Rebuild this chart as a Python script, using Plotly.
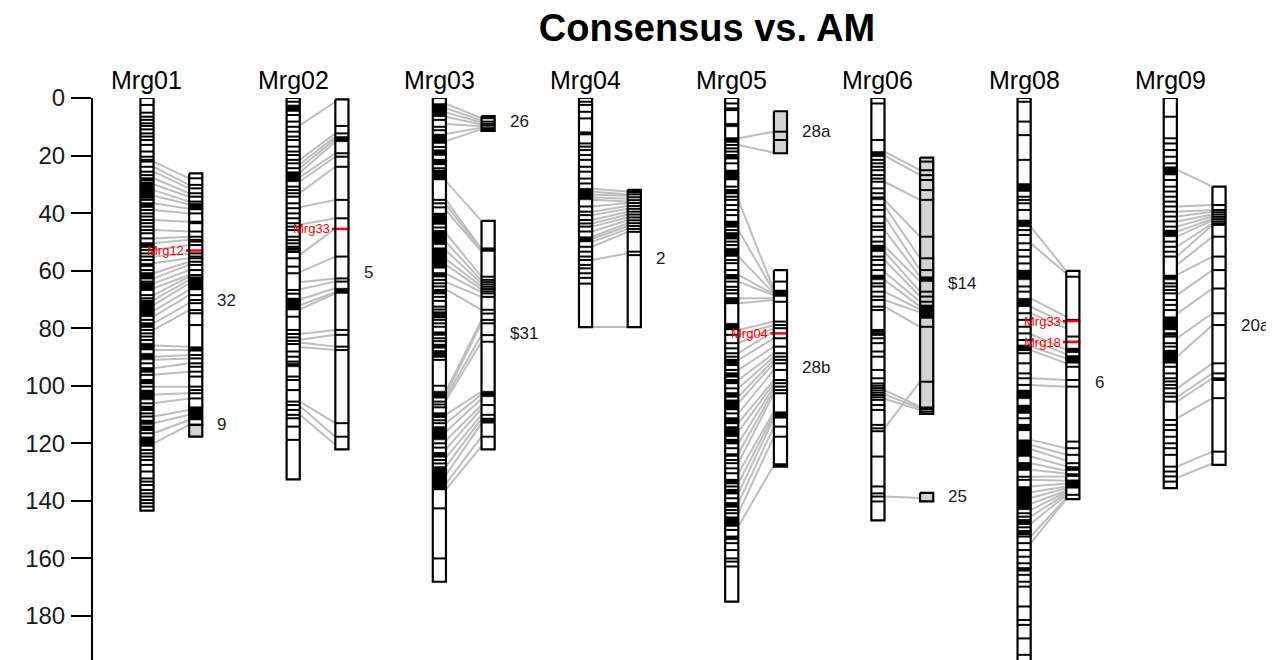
import plotly.graph_objects as go

# ---------------- data (cM) ----------------
GROUP_NAMES = ["Mrg01", "Mrg02", "Mrg03", "Mrg04", "Mrg05", "Mrg06", "Mrg08", "Mrg09"]
TICK_VALUES = [0, 20, 40, 60, 80, 100, 120, 140, 160, 180]

# Mrg01
C01_LEN = 143.4
C01_MARKS = [2.4, 5.1, 6.5, 7.6, 8.8, 9.7, 10.9, 12.3, 13.4, 14.6, 16.3, 18.6, 20.4, 21.5, 22.1, 23.9, 25.6,
             26.8, 27.9, 28.5, 35.4, 36.6, 37.8, 38.9, 40.1, 41.2, 42.4, 43.5, 44.7, 45.9, 47.0, 48.8, 50.5,
             51.7, 52.8, 54.0, 55.1, 56.3, 59.8, 60.9, 61.5, 62.7, 63.8, 64.4, 65.6, 66.1, 66.7, 68.5, 69.6,
             77.1, 78.3, 79.5, 80.6, 81.8, 82.9, 84.1, 92.2, 93.9, 95.1, 96.2, 98.0, 99.1, 100.3, 106.1, 107.3,
             108.4, 109.6, 110.7, 114.2, 115.4, 116.5, 122.3, 123.5, 124.6, 125.8, 127.5, 129.8, 132.2, 133.3,
             134.5, 136.2, 137.4, 138.5, 139.7, 140.8, 142.0]
C01_DENSE = [(29.1, 34.9), (36.6, 37.8), (50.5, 51.7), (57.4, 58.6), (60.9, 62.7), (64.4, 66.1), (70.2, 76.0),
             (78.3, 79.5), (85.2, 87.6), (88.7, 91.0), (93.9, 95.1), (98.0, 99.1), (101.5, 104.9),
             (107.3, 108.4), (111.9, 113.5), (114.2, 115.4), (117.7, 121.1)]
C01_AM_PIECES = [("32", 26.2, 113.6, "white", 70.2), ("9", 113.6, 117.7, "#D3D3D3", 113.3)]
C01_AM_MARKS = [27.9, 30.2, 31.4, 33.1, 34.3, 36.0, 40.1, 43.0, 43.5, 46.4, 48.2, 49.3, 49.9, 51.1, 54.0, 55.1,
                55.7, 56.9, 58.0, 59.8, 61.5, 68.5, 70.2, 71.3, 73.7, 74.8, 78.9, 89.3, 90.5, 92.2, 93.4, 95.1,
                96.8, 100.3, 101.5, 102.6, 104.4]
C01_AM_DENSE = [(36.6, 38.9), (62.1, 66.7), (86.4, 88.0), (107.3, 111.9)]
C01_LINKS = [(22.1, 27.9), (23.9, 30.2), (25.6, 31.4), (27.9, 33.1), (30.0, 34.3), (32.0, 36.0), (34.0, 37.0),
             (36.6, 38.5), (38.9, 40.1), (42.4, 43.0), (45.9, 46.4), (48.8, 48.2), (50.5, 49.3), (52.8, 51.1),
             (55.1, 54.0), (57.4, 55.7), (60.9, 56.9), (62.7, 58.0), (64.4, 59.8), (66.1, 61.5), (68.5, 62.1),
             (70.2, 63.2), (72.0, 64.4), (74.0, 66.7), (76.0, 68.5), (78.3, 71.3), (80.6, 73.7), (86.0, 86.4),
             (87.6, 87.6), (89.9, 89.3), (91.0, 90.5), (93.9, 92.2), (96.2, 95.1), (100.3, 100.3),
             (103.0, 102.6), (106.1, 104.4), (110.7, 108.4), (113.0, 110.1), (116.5, 111.9), (120.0, 113.6)]
C01_RED = [("Mrg12", 53.0)]

# Mrg02
C02_LEN = 132.5
C02_MARKS = [1.3, 5.9, 8.2, 10.0, 11.7, 13.4, 14.6, 16.9, 18.6, 19.8, 21.5, 22.7, 24.4, 30.8, 32.0, 33.1, 34.3,
             36.6, 38.3, 40.1, 41.8, 43.5, 44.7, 45.9, 48.2, 49.4, 50.5, 51.7, 53.5, 55.7, 58.6, 60.9, 66.7,
             68.0, 76.0, 80.6, 82.0, 83.2, 84.4, 85.5, 88.1, 89.9, 91.6, 96.8, 98.0, 101.5, 105.5, 106.7,
             108.4, 110.1, 111.3, 114.2, 118.8]
C02_DENSE = [(2.4, 4.7), (25.6, 29.1), (52.0, 53.0), (69.5, 73.7), (92.2, 93.4)]
C02_AM_PIECES = [("5", 0.5, 122.1, "white", 60.8)]
C02_AM_MARKS = [9.7, 12.3, 19.2, 20.4, 23.9, 35.4, 41.8, 55.1, 62.7, 63.8, 80.6, 82.3, 86.4, 87.6, 113.0, 117.7]
C02_AM_DENSE = [(13.4, 15.2), (66.1, 67.9)]
C02_LINKS = [(9.5, 1.3), (21.5, 12.3), (23.0, 13.4), (24.4, 14.2), (26.0, 15.2), (27.5, 19.2), (29.0, 20.4),
             (33.0, 23.9), (38.0, 35.4), (44.0, 41.8), (54.5, 45.3), (60.5, 55.1), (64.0, 62.7), (66.5, 63.8),
             (70.0, 66.1), (72.0, 67.5), (73.5, 67.9), (82.0, 80.6), (84.0, 82.3), (85.0, 86.4), (86.5, 87.6),
             (105.5, 113.0), (107.0, 117.7), (110.0, 120.5)]
C02_RED = [("Mrg33", 45.5)]

# Mrg03
C03_LEN = 168.1
C03_MARKS = [7.6, 10.0, 11.2, 17.0, 21.5, 23.0, 24.4, 35.4, 36.6, 38.0, 45.0, 60.9, 62.0, 63.2, 64.4, 65.5,
             66.7, 67.9, 69.1, 70.5, 72.5, 73.5, 74.5, 75.3, 76.2, 77.1, 78.3, 79.5, 83.5, 84.5, 88.0, 89.0,
             89.9, 91.0, 100.0, 105.5, 106.5, 107.5, 109.6, 110.8, 112.0, 113.0, 120.0, 121.5, 123.4, 124.6,
             125.8, 127.0, 142.6, 160.0]
C03_DENSE = [(1.9, 6.5), (12.5, 15.8), (18.0, 20.0), (21.5, 23.0), (25.0, 28.5), (40.0, 44.0), (46.0, 51.0),
             (52.0, 59.2), (60.9, 62.0), (66.7, 67.9), (74.5, 76.2), (81.2, 82.5), (85.5, 87.0), (88.0, 89.9),
             (101.9, 104.3), (109.6, 110.8), (114.2, 118.8), (123.4, 124.6), (128.1, 136.2)]
C03_AM_PIECES = [("26", 6.3, 11.4, "white", 8.3), ("$31", 42.7, 122.1, "white", 81.7)]
C03_AM_MARKS = [8.2, 9.0, 9.6, 52.8, 62.1, 63.2, 64.0, 64.8, 65.6, 66.4, 67.2, 67.9, 69.1, 73.6, 74.9, 77.1,
                78.3, 82.4, 84.7, 106.7, 110.1, 117.7]
C03_AM_DENSE = [(6.3, 7.3), (10.2, 11.4), (52.0, 53.3), (101.9, 103.8), (111.2, 113.0)]
C03_LINKS = [(2.0, 7.0), (3.5, 7.8), (5.0, 8.5), (6.5, 9.2), (9.0, 9.8), (12.5, 10.3), (15.0, 10.8),
             (29.0, 42.7), (35.4, 52.5), (37.0, 53.0), (39.0, 53.5), (47.0, 62.1), (50.0, 63.5), (53.0, 64.5),
             (56.0, 65.5), (58.0, 66.5), (61.0, 67.5), (64.0, 69.1), (66.5, 73.6), (102.0, 77.1), (103.0, 78.3),
             (104.0, 82.4), (105.0, 84.7), (110.0, 102.0), (113.0, 103.0), (116.0, 104.5), (119.0, 106.7),
             (122.0, 108.0), (125.0, 110.1), (128.0, 111.5), (131.0, 113.0), (134.0, 117.7), (136.0, 121.0)]
C03_RED = []

# Mrg04
C04_LEN = 79.6
C04_MARKS = [1.3, 2.4, 4.8, 7.1, 15.8, 16.9, 18.1, 19.8, 21.5, 23.9, 25.6, 28.0, 29.7, 37.7, 39.5, 40.7, 42.4,
             43.6, 44.7, 46.4, 51.7, 53.4, 55.1, 56.3, 58.0, 59.2, 60.9, 62.5, 64.5]
C04_DENSE = [(11.7, 12.9), (31.4, 35.4), (48.2, 50.0)]
C04_AM_PIECES = [("2", 31.9, 79.6, "white", 55.6)]
C04_AM_MARKS = [33.5, 34.5, 35.5, 36.5, 37.5, 38.5, 39.5, 40.5, 41.5, 42.5, 43.5, 44.5, 45.5, 46.5, 53.4, 54.6]
C04_AM_DENSE = [(31.9, 33.0)]
C04_LINKS = [(31.5, 32.5), (32.5, 33.5), (33.5, 34.0), (34.5, 35.0), (35.4, 36.0), (37.7, 36.5), (39.5, 37.5),
             (40.7, 38.5), (42.4, 39.5), (43.6, 40.5), (44.7, 41.5), (46.4, 42.5), (48.2, 43.5), (49.0, 44.5),
             (50.0, 45.5), (51.7, 46.5), (56.3, 54.0), (79.6, 79.6)]
C04_RED = []

# Mrg05
C05_LEN = 175.0
C05_MARKS = [1.9, 3.6, 4.2, 14.0, 15.2, 16.3, 17.5, 18.6, 19.8, 21.0, 22.7, 30.8, 32.0, 33.1, 34.3, 35.4, 37.2,
             38.9, 40.7, 43.0, 43.5, 44.7, 45.9, 47.0, 48.8, 49.9, 51.1, 56.3, 57.4, 59.8, 61.5, 62.7, 63.8,
             65.6, 66.7, 67.9, 69.6, 70.8, 71.3, 82.3, 85.2, 87.0, 88.7, 89.9, 91.0, 92.8, 94.5, 95.7, 96.8,
             98.0, 99.1, 100.9, 102.6, 103.8, 109.6, 111.3, 113.0, 118.8, 120.0, 121.7, 125.8, 126.9, 128.7,
             130.4, 132.7, 133.9, 135.0, 136.2, 137.4, 139.1, 140.8, 142.0, 143.2, 144.3, 150.1, 152.4, 154.7,
             157.1, 160.0, 161.1, 162.8]
C05_DENSE = [(8.8, 10.0), (14.0, 15.2), (19.8, 21.0), (25.0, 28.5), (32.0, 33.1), (43.0, 44.7), (47.0, 48.8),
             (52.2, 55.1), (61.5, 62.7), (69.6, 70.8), (78.3, 80.6), (91.0, 92.8), (95.7, 96.8), (98.0, 99.1),
             (102.6, 103.8), (104.9, 108.4), (111.3, 113.0), (114.2, 117.7), (118.8, 120.0), (123.5, 124.6),
             (132.7, 133.9), (136.2, 137.4), (140.8, 142.0), (145.5, 148.9), (152.4, 153.5)]
C05_AM_PIECES = [("28a", 4.6, 19.2, "#D3D3D3", 11.5), ("28b", 59.8, 128.1, "white", 93.5)]
C05_AM_MARKS = [11.7, 14.6, 63.8, 70.8, 77.7, 78.9, 80.0, 83.5, 86.4, 88.7, 89.9, 91.0, 92.2, 94.5, 98.0, 99.1,
                100.3, 101.5, 102.6, 114.2, 117.7]
C05_AM_DENSE = [(66.7, 69.0), (109.0, 111.3), (127.0, 128.1)]
C05_LINKS = [(14.0, 11.7), (16.3, 19.0), (35.4, 66.7), (45.9, 67.2), (55.1, 67.9), (61.5, 68.2), (63.8, 68.6),
             (69.6, 69.6), (71.3, 70.2), (80.6, 77.7), (82.3, 78.9), (85.2, 80.0), (88.7, 81.0), (91.0, 83.5),
             (94.5, 86.4), (98.0, 88.7), (100.9, 89.9), (103.8, 91.0), (106.0, 92.2), (109.6, 94.5),
             (113.0, 98.0), (116.0, 99.1), (120.0, 100.3), (123.5, 101.5), (126.9, 102.6), (130.4, 109.0),
             (133.9, 110.0), (137.4, 111.3), (140.8, 114.2), (144.3, 117.7), (148.9, 127.5)]
C05_RED = [("Mrg04", 81.8)]

# Mrg06
C06_LEN = 146.8
C06_MARKS = [1.9, 14.6, 21.5, 22.7, 23.9, 25.1, 26.8, 28.0, 29.1, 31.4, 33.1, 37.2, 38.9, 41.2, 43.5, 44.7,
             45.9, 48.2, 49.9, 55.1, 56.3, 58.0, 59.8, 64.4, 65.5, 67.3, 69.0, 70.2, 72.5, 73.7, 80.6, 81.2,
             81.8, 82.3, 83.5, 85.2, 88.1, 89.9, 94.5, 97.4, 99.2, 100.0, 100.8, 101.6, 102.4, 103.2, 104.0,
             104.9, 106.7, 108.4, 113.6, 114.8, 115.8, 124.6, 135.0, 137.4, 138.5, 140.2]
C06_DENSE = [(18.6, 20.4), (34.3, 35.4), (51.1, 53.4), (61.5, 63.2)]
C06_AM_PIECES = [("$14", 20.7, 109.8, "#D3D3D3", 64.6), ("25", 137.2, 140.2, "#D3D3D3", 138.6)]
C06_AM_MARKS = [22.1, 25.1, 26.8, 28.5, 32.0, 35.4, 48.2, 55.7, 59.8, 67.3, 69.0, 70.8, 79.5, 98.6, 109.0]
C06_AM_DENSE = [(62.1, 63.8), (71.9, 76.6), (107.3, 108.4)]
C06_LINKS = [(18.6, 25.1), (20.0, 26.8), (29.1, 35.4), (35.4, 48.2), (37.5, 55.7), (41.2, 59.8), (45.9, 62.1),
             (51.5, 63.8), (53.4, 67.3), (56.3, 69.0), (60.5, 70.8), (63.2, 72.5), (67.3, 73.5), (70.2, 74.5),
             (72.5, 79.5), (101.5, 107.3), (103.0, 107.8), (104.5, 108.4), (114.8, 98.6), (138.5, 139.0)]
C06_RED = []

# Mrg08
C08_LEN = 197.5
C08_MARKS = [1.3, 8.2, 12.9, 21.5, 34.3, 35.4, 36.6, 38.9, 45.9, 47.6, 50.5, 52.8, 55.1, 57.5, 65.5, 67.3,
             74.8, 77.1, 79.5, 81.8, 84.1, 87.6, 88.7, 92.2, 95.7, 97.4, 99.7, 111.3, 113.6, 115.4, 126.9,
             129.2, 131.6, 132.7, 144.3, 145.5, 146.7, 148.0, 149.2, 150.5, 151.6, 152.4, 154.7, 157.1, 159.4,
             161.7, 163.4, 165.7, 168.1, 169.8, 176.7, 181.4, 183.1, 187.8, 193.5]
C08_DENSE = [(29.7, 32.5), (42.4, 44.7), (59.8, 63.2), (69.6, 72.5), (85.8, 87.5), (101.5, 104.5),
             (106.7, 109.6), (113.6, 115.4), (118.8, 124.6), (126.9, 129.2), (135.0, 143.1), (146.7, 148.0),
             (150.5, 151.6), (163.4, 164.5)]
C08_AM_PIECES = [("6", 60.1, 139.4, "white", 99.0)]
C08_AM_MARKS = [62.1, 77.1, 82.9, 84.7, 93.4, 98.0, 100.3, 119.4, 121.7, 124.0, 126.9, 137.9]
C08_AM_DENSE = [(86.9, 88.5), (89.5, 92.2), (128.1, 129.5), (130.5, 131.6), (132.7, 135.6)]
C08_LINKS = [(44.7, 60.1), (50.5, 61.0), (69.6, 76.0), (72.5, 78.5), (74.8, 80.0), (82.0, 87.5), (84.1, 89.0),
             (86.4, 90.5), (87.6, 92.2), (97.4, 98.0), (99.7, 100.3), (118.8, 121.7), (120.5, 124.0),
             (122.0, 126.0), (124.6, 128.0), (126.9, 129.5), (129.2, 130.5), (131.6, 131.5), (132.7, 133.0),
             (135.0, 134.0), (137.0, 135.0), (139.0, 135.6), (141.0, 136.5), (143.1, 137.0), (145.5, 137.5),
             (148.0, 138.0), (152.4, 139.0), (154.7, 139.4)]
C08_RED = [("Mrg33", 77.5), ("Mrg18", 84.8)]

# Mrg09
C09_LEN = 135.6
C09_MARKS = [6.5, 14.0, 15.8, 18.1, 20.4, 22.7, 28.5, 30.8, 32.5, 34.3, 36.0, 37.7, 39.5, 41.2, 42.9, 44.7,
             49.9, 51.7, 53.4, 55.1, 64.4, 65.5, 66.7, 67.9, 70.2, 71.9, 73.7, 82.9, 85.2, 86.4, 93.4, 95.7,
             97.4, 98.5, 99.7, 100.9, 102.6, 103.8, 105.5, 111.9, 113.6, 115.4, 117.7, 120.0, 121.7, 124.0,
             128.1, 129.8, 131.5, 133.3]
C09_DENSE = [(23.9, 26.8), (45.9, 48.2), (61.5, 63.2), (76.0, 80.6), (81.5, 82.5), (87.6, 92.2)]
C09_AM_PIECES = [("20a", 30.8, 127.5, "white", 79.2)]
C09_AM_MARKS = [37.2, 38.9, 39.7, 40.5, 41.3, 42.1, 42.9, 43.6, 44.1, 48.2, 55.1, 59.8, 66.2, 74.8, 78.9, 92.2,
                95.7, 97.4, 98.0, 104.3, 122.9]
C09_AM_DENSE = []
C09_LINKS = [(24.9, 30.8), (37.7, 37.2), (39.5, 38.9), (41.2, 39.5), (42.9, 40.5), (44.7, 41.2), (46.5, 42.0),
             (48.2, 42.5), (51.7, 43.6), (55.1, 44.1), (58.0, 48.2), (61.5, 55.1), (68.5, 59.8), (75.0, 66.2),
             (83.5, 74.8), (90.0, 78.9), (101.0, 92.2), (104.0, 95.7), (105.5, 97.4), (111.3, 104.3),
             (128.1, 122.9), (132.0, 127.0)]
C09_RED = []

# ---------------- assemble ----------------
groups = [
    (C01_LEN, C01_MARKS, C01_DENSE, C01_AM_PIECES, C01_AM_MARKS, C01_AM_DENSE, C01_LINKS, C01_RED),
    (C02_LEN, C02_MARKS, C02_DENSE, C02_AM_PIECES, C02_AM_MARKS, C02_AM_DENSE, C02_LINKS, C02_RED),
    (C03_LEN, C03_MARKS, C03_DENSE, C03_AM_PIECES, C03_AM_MARKS, C03_AM_DENSE, C03_LINKS, C03_RED),
    (C04_LEN, C04_MARKS, C04_DENSE, C04_AM_PIECES, C04_AM_MARKS, C04_AM_DENSE, C04_LINKS, C04_RED),
    (C05_LEN, C05_MARKS, C05_DENSE, C05_AM_PIECES, C05_AM_MARKS, C05_AM_DENSE, C05_LINKS, C05_RED),
    (C06_LEN, C06_MARKS, C06_DENSE, C06_AM_PIECES, C06_AM_MARKS, C06_AM_DENSE, C06_LINKS, C06_RED),
    (C08_LEN, C08_MARKS, C08_DENSE, C08_AM_PIECES, C08_AM_MARKS, C08_AM_DENSE, C08_LINKS, C08_RED),
    (C09_LEN, C09_MARKS, C09_DENSE, C09_AM_PIECES, C09_AM_MARKS, C09_AM_DENSE, C09_LINKS, C09_RED),
]

HW = 0.135          # half width of a chromosome bar (x units)
GAP = 3.0           # x units between groups
AM_OFF = 1.0        # AM bar offset from consensus bar

link_x, link_y = [], []
fills = {}          # color -> (xs, ys)
dense_x, dense_y = [], []
mark_x, mark_y = [], []
out_x, out_y = [], []
red_x, red_y = [], []
annotations = []


def rect(xs, ys, x0, x1, y0, y1):
    xs += [x0, x1, x1, x0, x0, None]
    ys += [y0, y0, y1, y1, y0, None]


for i, (clen, cm, cd, pieces, am, ad, links, reds) in enumerate(groups):
    cx = i * GAP
    ax = cx + AM_OFF
    # connectors
    for c, a in links:
        link_x += [cx + HW, ax - HW, None]
        link_y += [c, a, None]
    # consensus bar
    fx, fy = fills.setdefault("white", ([], []))
    rect(fx, fy, cx - HW, cx + HW, 0, clen)
    rect(out_x, out_y, cx - HW, cx + HW, 0, clen)
    for m in cm:
        mark_x += [cx - HW, cx + HW, None]
        mark_y += [m, m, None]
    for a0, a1 in cd:
        rect(dense_x, dense_y, cx - HW, cx + HW, a0, a1)
    # AM pieces
    for lab, s, e, col, ly in pieces:
        fx, fy = fills.setdefault(col, ([], []))
        rect(fx, fy, ax - HW, ax + HW, s, e)
        rect(out_x, out_y, ax - HW, ax + HW, s, e)
        annotations.append(dict(x=ax + HW + 0.27, y=ly, xref="x", yref="y", text=lab, showarrow=False,
                                xanchor="left", yanchor="middle",
                                font=dict(size=17, color="#1a1a1a", family="Liberation Sans, Arial")))
    for m in am:
        mark_x += [ax - HW, ax + HW, None]
        mark_y += [m, m, None]
    for a0, a1 in ad:
        rect(dense_x, dense_y, ax - HW, ax + HW, a0, a1)
    for lab, ry in reds:
        red_x += [ax - HW - 0.07, ax + HW + 0.02, None]
        red_y += [ry, ry, None]
        annotations.append(dict(x=ax - HW - 0.07, y=ry, xref="x", yref="y", text=lab, showarrow=False,
                                xanchor="right", yanchor="middle",
                                font=dict(size=13, color="#FF0000", family="Liberation Sans, Arial")))
    # group name
    annotations.append(dict(x=cx, y=1.032, xref="x", yref="paper", text=GROUP_NAMES[i], showarrow=False,
                            xanchor="center", yanchor="middle",
                            font=dict(size=25, color="black", family="Liberation Sans, Arial")))

fig = go.Figure()
fig.add_trace(go.Scatter(x=link_x, y=link_y, mode="lines", line=dict(color="#BEBEBE", width=2),
                         hoverinfo="skip", showlegend=False))
for col, (fx, fy) in fills.items():
    fig.add_trace(go.Scatter(x=fx, y=fy, mode="lines", fill="toself", fillcolor=col,
                             line=dict(width=0, color=col), hoverinfo="skip", showlegend=False))
fig.add_trace(go.Scatter(x=dense_x, y=dense_y, mode="lines", fill="toself", fillcolor="black",
                         line=dict(width=0.5, color="black"), hoverinfo="skip", showlegend=False))
fig.add_trace(go.Scatter(x=mark_x, y=mark_y, mode="lines", line=dict(color="black", width=2.0),
                         hoverinfo="skip", showlegend=False))
fig.add_trace(go.Scatter(x=red_x, y=red_y, mode="lines", line=dict(color="#FF0000", width=2.5),
                         hoverinfo="skip", showlegend=False))
fig.add_trace(go.Scatter(x=out_x, y=out_y, mode="lines", line=dict(color="black", width=2.2),
                         hoverinfo="skip", showlegend=False))

# the page body adds an 8px margin, so the figure is sized/offset to compensate
fig.update_layout(
    width=1266, height=652,
    margin=dict(l=85, r=0, t=90, b=0),
    paper_bgcolor="white", plot_bgcolor="white",
    showlegend=False,
    title=dict(text="<b>Consensus vs. AM</b>", x=699 / 1266, xanchor="center", y=1 - 20 / 652, yanchor="middle",
               xref="container", yref="container",
               font=dict(size=38, color="black", family="Liberation Sans, Arial")),
    annotations=annotations,
    xaxis=dict(visible=False, range=[-1.108, 23.128], automargin=False, fixedrange=True),
    yaxis=dict(range=[195.3, 0], tickvals=TICK_VALUES, ticks="outside", ticklen=20, tickwidth=2,
               tickcolor="black", showline=True, linecolor="black", linewidth=2, showgrid=False,
               zeroline=False, automargin=False, ticklabelstandoff=1,
               tickfont=dict(size=24, color="#1a1a1a", family="Liberation Sans, Arial")),
)

fig.write_html("out.html")
